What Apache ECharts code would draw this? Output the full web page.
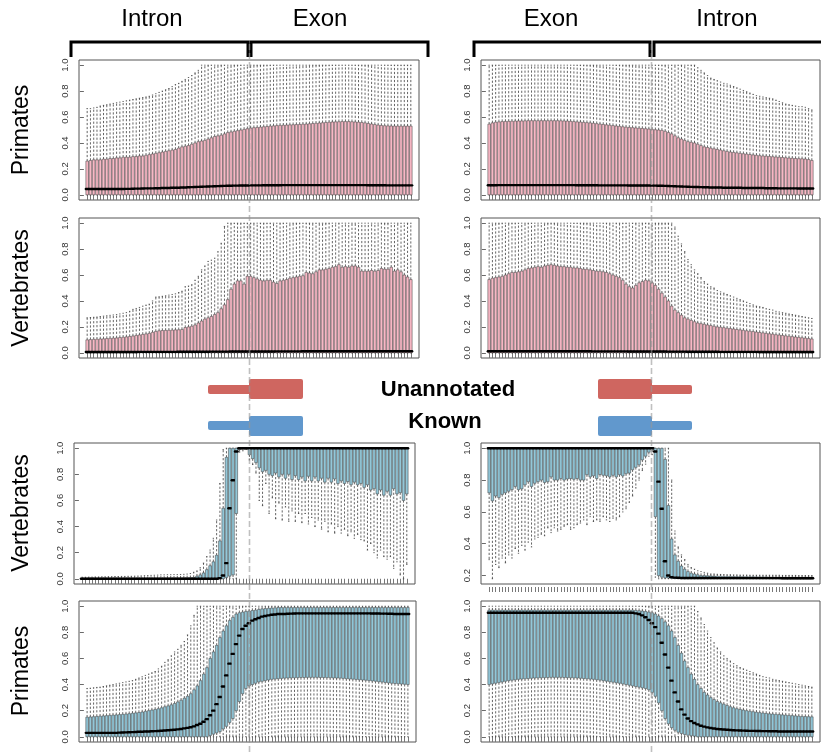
<!DOCTYPE html>
<html>
<head>
<meta charset="utf-8">
<script src="https://cdn.jsdelivr.net/npm/echarts@6/dist/echarts.min.js"></script>
<style>
html,body{margin:0;padding:0;background:#fff;}
#chart{width:821px;height:753px;}
</style>
</head>
<body>
<div id="chart"></div>
<script>
// Five-number summaries (whisker low, Q1, median, Q3, whisker high) for 100 positions per panel.
// Left column: 50 intron positions then 50 exon positions; right column: 50 exon then 50 intron.

// ---- Primates, unannotated, intron -> exon
const a_lo = [
0,0,0,0,0,0,0,0,0,0, 0,0,0,0,0,0,0,0,0,0, 0,0,0,0,0,0,0,0,0,0, 0,0,0,0,0,0,0,0,0,0, 0,0,0,0,0,0,0,0,0,0,
0,0,0,0,0,0,0,0,0,0, 0,0,0,0,0,0,0,0,0,0, 0,0,0,0,0,0,0,0,0,0, 0,0,0,0,0,0,0,0,0,0, 0,0,0,0,0,0,0,0,0,0];
const a_q1 = [
0,0,0,0,0,0,0,0,0,0, 0,0,0,0,0,0,0,0,0,0, 0,0,0,0,0,0,0,0,0,0, 0,0,0,0,0,0,0,0,0,0, 0,0,0,0,0,0,0,0,0,0,
0,0,0,0,0,0,0,0,0,0, 0,0,0,0,0,0,0,0,0,0, 0,0,0,0,0,0,0,0,0,0, 0,0,0,0,0,0,0,0,0,0, 0,0,0,0,0,0,0,0,0,0];
const a_med = [
0.045,0.045,0.045,0.045,0.045,0.045,0.045,0.045,0.045,0.045,
0.045,0.045,0.046,0.046,0.047,0.048,0.048,0.049,0.05,0.05,
0.05,0.051,0.051,0.052,0.052,0.053,0.054,0.055,0.055,0.056,
0.057,0.058,0.059,0.06,0.061,0.062,0.063,0.064,0.065,0.066,
0.067,0.068,0.069,0.07,0.07,0.071,0.071,0.072,0.072,0.072,
0.073,0.073,0.073,0.073,0.074,0.074,0.074,0.074,0.074,0.074,
0.075,0.075,0.075,0.075,0.075,0.075,0.075,0.075,0.075,0.075,
0.075,0.075,0.075,0.075,0.075,0.075,0.075,0.075,0.075,0.075,
0.075,0.075,0.075,0.075,0.075,0.075,0.074,0.074,0.074,0.074,
0.074,0.074,0.073,0.073,0.073,0.073,0.073,0.073,0.073,0.073];
const a_q3 = [
0.26,0.265,0.27,0.27,0.27,0.275,0.275,0.28,0.28,0.285,
0.285,0.29,0.29,0.29,0.295,0.295,0.30,0.30,0.305,0.31,
0.315,0.32,0.325,0.33,0.335,0.34,0.345,0.35,0.36,0.37,
0.375,0.38,0.39,0.40,0.41,0.415,0.42,0.43,0.44,0.45,
0.455,0.46,0.47,0.48,0.485,0.49,0.495,0.50,0.505,0.51,
0.515,0.518,0.52,0.522,0.525,0.527,0.53,0.532,0.534,0.536,
0.537,0.538,0.54,0.541,0.542,0.543,0.545,0.546,0.548,0.55,
0.552,0.554,0.556,0.558,0.56,0.562,0.563,0.564,0.565,0.565,
0.565,0.564,0.562,0.56,0.558,0.555,0.55,0.546,0.542,0.538,
0.535,0.533,0.532,0.531,0.53,0.53,0.53,0.53,0.53,0.53];
const a_hi = [
0.665,0.665,0.67,0.675,0.685,0.69,0.695,0.70,0.705,0.71,
0.715,0.72,0.725,0.73,0.735,0.74,0.745,0.75,0.755,0.76,
0.77,0.78,0.79,0.80,0.81,0.82,0.835,0.85,0.86,0.875,
0.89,0.905,0.92,0.94,0.96,1,1,1,1,1,
1,1,1,1,1,1,1,1,1,1, 1,1,1,1,1,1,1,1,1,1, 1,1,1,1,1,1,1,1,1,1,
1,1,1,1,1,1,1,1,1,1, 1,1,1,1,1,1,1,1,1,1, 1,1,1,1,1,1,1,1,1,1];

// ---- Primates, unannotated, exon -> intron
const b_lo = [
0,0,0,0,0,0,0,0,0,0, 0,0,0,0,0,0,0,0,0,0, 0,0,0,0,0,0,0,0,0,0, 0,0,0,0,0,0,0,0,0,0, 0,0,0,0,0,0,0,0,0,0,
0,0,0,0,0,0,0,0,0,0, 0,0,0,0,0,0,0,0,0,0, 0,0,0,0,0,0,0,0,0,0, 0,0,0,0,0,0,0,0,0,0, 0,0,0,0,0,0,0,0,0,0];
const b_q1 = [
0,0,0,0,0,0,0,0,0,0, 0,0,0,0,0,0,0,0,0,0, 0,0,0,0,0,0,0,0,0,0, 0,0,0,0,0,0,0,0,0,0, 0,0,0,0,0,0,0,0,0,0,
0,0,0,0,0,0,0,0,0,0, 0,0,0,0,0,0,0,0,0,0, 0,0,0,0,0,0,0,0,0,0, 0,0,0,0,0,0,0,0,0,0, 0,0,0,0,0,0,0,0,0,0];
const b_med = [
0.074,0.074,0.074,0.075,0.075,0.075,0.075,0.075,0.075,0.075,
0.075,0.075,0.075,0.075,0.075,0.075,0.075,0.075,0.075,0.075,
0.075,0.075,0.075,0.075,0.075,0.075,0.075,0.074,0.074,0.074,
0.074,0.074,0.074,0.074,0.073,0.073,0.073,0.073,0.073,0.073,
0.073,0.073,0.073,0.072,0.072,0.072,0.072,0.072,0.072,0.072,
0.071,0.071,0.07,0.07,0.069,0.068,0.067,0.066,0.065,0.064,
0.063,0.062,0.061,0.06,0.06,0.059,0.058,0.058,0.057,0.057,
0.056,0.056,0.055,0.055,0.055,0.054,0.054,0.054,0.053,0.053,
0.053,0.052,0.052,0.052,0.052,0.051,0.051,0.051,0.051,0.05,
0.05,0.05,0.05,0.05,0.05,0.049,0.049,0.049,0.049,0.049];
const b_q3 = [
0.545,0.555,0.56,0.563,0.565,0.566,0.567,0.568,0.569,0.57,
0.57,0.571,0.572,0.572,0.572,0.572,0.572,0.572,0.572,0.572,
0.572,0.572,0.571,0.57,0.569,0.567,0.565,0.563,0.561,0.559,
0.557,0.555,0.552,0.549,0.546,0.543,0.54,0.537,0.534,0.531,
0.528,0.525,0.522,0.52,0.518,0.516,0.514,0.512,0.51,0.508,
0.505,0.502,0.50,0.497,0.49,0.48,0.47,0.455,0.44,0.43,
0.42,0.41,0.405,0.40,0.39,0.38,0.37,0.365,0.36,0.355,
0.35,0.345,0.34,0.335,0.33,0.327,0.324,0.32,0.317,0.314,
0.311,0.308,0.305,0.302,0.30,0.298,0.296,0.294,0.292,0.29,
0.288,0.286,0.284,0.282,0.28,0.279,0.278,0.276,0.272,0.265];
const b_hi = [
1,1,1,1,1,1,1,1,1,1, 1,1,1,1,1,1,1,1,1,1, 1,1,1,1,1,1,1,1,1,1, 1,1,1,1,1,1,1,1,1,1,
1,1,1,1,1,1,1,1,1,1, 1,1,1,1,1,1,1,1,1,1, 1,1,1,1,0.98,0.96,0.94,0.92,0.90,0.89,
0.88,0.87,0.86,0.855,0.845,0.835,0.825,0.815,0.805,0.795,
0.785,0.775,0.765,0.76,0.755,0.75,0.745,0.74,0.73,0.72,
0.71,0.70,0.695,0.69,0.685,0.68,0.68,0.675,0.665,0.655];

// ---- Vertebrates, unannotated, intron -> exon
const c_lo = [
0,0,0,0,0,0,0,0,0,0, 0,0,0,0,0,0,0,0,0,0, 0,0,0,0,0,0,0,0,0,0, 0,0,0,0,0,0,0,0,0,0, 0,0,0,0,0,0,0,0,0,0,
0,0,0,0,0,0,0,0,0,0, 0,0,0,0,0,0,0,0,0,0, 0,0,0,0,0,0,0,0,0,0, 0,0,0,0,0,0,0,0,0,0, 0,0,0,0,0,0,0,0,0,0];
const c_q1 = [
0,0,0,0,0,0,0,0,0,0, 0,0,0,0,0,0,0,0,0,0, 0,0,0,0,0,0,0,0,0,0, 0,0,0,0,0,0,0,0,0,0, 0,0,0,0,0,0,0,0,0,0,
0,0,0,0,0,0,0,0,0,0, 0,0,0,0,0,0,0,0,0,0, 0,0,0,0,0,0,0,0,0,0, 0,0,0,0,0,0,0,0,0,0, 0,0,0,0,0,0,0,0,0,0];
const c_med = [
0.006,0.006,0.006,0.006,0.006,0.006,0.006,0.006,0.006,0.006,
0.006,0.006,0.006,0.006,0.006,0.006,0.007,0.007,0.007,0.007,
0.007,0.007,0.007,0.007,0.007,0.007,0.007,0.007,0.008,0.008,
0.008,0.008,0.008,0.008,0.008,0.008,0.008,0.008,0.009,0.009,
0.009,0.009,0.009,0.009,0.01,0.01,0.01,0.01,0.01,0.01,
0.01,0.01,0.01,0.01,0.01,0.01,0.01,0.01,0.011,0.011,
0.011,0.011,0.011,0.011,0.011,0.011,0.012,0.012,0.012,0.012,
0.012,0.012,0.012,0.012,0.012,0.012,0.012,0.012,0.012,0.012,
0.012,0.012,0.012,0.012,0.012,0.012,0.012,0.012,0.012,0.012,
0.012,0.012,0.012,0.012,0.012,0.012,0.012,0.012,0.012,0.012];
const c_q3 = [
0.10,0.102,0.104,0.105,0.107,0.108,0.11,0.112,0.113,0.115,
0.118,0.12,0.123,0.126,0.13,0.134,0.138,0.142,0.146,0.15,
0.158,0.165,0.17,0.172,0.173,0.174,0.175,0.177,0.178,0.18,
0.195,0.20,0.205,0.215,0.23,0.245,0.26,0.27,0.28,0.295,
0.31,0.34,0.37,0.41,0.49,0.53,0.555,0.555,0.53,0.59,
0.59,0.58,0.57,0.56,0.555,0.56,0.56,0.545,0.535,0.555,
0.56,0.565,0.575,0.58,0.585,0.59,0.595,0.62,0.615,0.61,
0.625,0.64,0.64,0.645,0.65,0.66,0.665,0.68,0.66,0.665,
0.66,0.67,0.67,0.66,0.63,0.63,0.63,0.635,0.63,0.635,
0.65,0.645,0.645,0.66,0.63,0.64,0.625,0.60,0.585,0.565];
const c_hi = [
0.27,0.272,0.274,0.276,0.28,0.283,0.286,0.289,0.292,0.295,
0.30,0.305,0.31,0.32,0.335,0.342,0.35,0.36,0.368,0.375,
0.40,0.43,0.432,0.436,0.44,0.445,0.45,0.455,0.465,0.475,
0.51,0.515,0.525,0.56,0.59,0.64,0.67,0.705,0.715,0.73,
0.78,0.845,0.975,1,1,1,1,1,1,1,
1,1,1,1,1,1,1,1,1,1, 1,1,1,1,1,1,1,1,1,1, 1,1,1,1,1,1,1,1,1,1,
1,1,1,1,1,1,1,1,1,1, 1,1,1,1,1,1,1,1,1,1];

// ---- Vertebrates, unannotated, exon -> intron
const d_lo = [
0,0,0,0,0,0,0,0,0,0, 0,0,0,0,0,0,0,0,0,0, 0,0,0,0,0,0,0,0,0,0, 0,0,0,0,0,0,0,0,0,0, 0,0,0,0,0,0,0,0,0,0,
0,0,0,0,0,0,0,0,0,0, 0,0,0,0,0,0,0,0,0,0, 0,0,0,0,0,0,0,0,0,0, 0,0,0,0,0,0,0,0,0,0, 0,0,0,0,0,0,0,0,0,0];
const d_q1 = [
0,0,0,0,0,0,0,0,0,0, 0,0,0,0,0,0,0,0,0,0, 0,0,0,0,0,0,0,0,0,0, 0,0,0,0,0,0,0,0,0,0, 0,0,0,0,0,0,0,0,0,0,
0,0,0,0,0,0,0,0,0,0, 0,0,0,0,0,0,0,0,0,0, 0,0,0,0,0,0,0,0,0,0, 0,0,0,0,0,0,0,0,0,0, 0,0,0,0,0,0,0,0,0,0];
const d_med = [
0.012,0.012,0.012,0.012,0.012,0.012,0.012,0.012,0.012,0.012,
0.012,0.012,0.012,0.012,0.012,0.012,0.012,0.012,0.012,0.012,
0.012,0.012,0.012,0.012,0.012,0.012,0.012,0.012,0.012,0.012,
0.012,0.012,0.011,0.011,0.011,0.011,0.011,0.011,0.011,0.011,
0.011,0.011,0.011,0.01,0.01,0.01,0.01,0.01,0.01,0.01,
0.01,0.01,0.01,0.01,0.01,0.009,0.009,0.009,0.009,0.009,
0.009,0.008,0.008,0.008,0.008,0.008,0.008,0.008,0.008,0.008,
0.008,0.007,0.007,0.007,0.007,0.007,0.007,0.007,0.007,0.007,
0.007,0.007,0.007,0.006,0.006,0.006,0.006,0.006,0.006,0.006,
0.006,0.006,0.006,0.006,0.006,0.006,0.006,0.006,0.006,0.006];
const d_q3 = [
0.565,0.575,0.58,0.585,0.59,0.60,0.61,0.62,0.62,0.625,
0.63,0.64,0.65,0.655,0.66,0.665,0.66,0.67,0.675,0.68,
0.675,0.67,0.665,0.665,0.66,0.66,0.655,0.655,0.65,0.645,
0.645,0.64,0.635,0.63,0.63,0.625,0.62,0.61,0.60,0.59,
0.58,0.56,0.53,0.51,0.50,0.52,0.54,0.55,0.56,0.555,
0.54,0.52,0.49,0.46,0.43,0.40,0.36,0.33,0.31,0.29,
0.27,0.26,0.25,0.24,0.23,0.225,0.22,0.215,0.21,0.205,
0.20,0.197,0.194,0.19,0.187,0.184,0.18,0.177,0.174,0.17,
0.167,0.164,0.16,0.157,0.154,0.15,0.147,0.144,0.14,0.137,
0.134,0.131,0.128,0.125,0.122,0.119,0.116,0.113,0.11,0.107];
const d_hi = [
1,1,1,1,1,1,1,1,1,1, 1,1,1,1,1,1,1,1,1,1, 1,1,1,1,1,1,1,1,1,1, 1,1,1,1,1,1,1,1,1,1,
1,1,1,1,1,1,1,1,1,1, 1,1,1,1,1,1,1,0.97,0.90,0.84,
0.78,0.72,0.68,0.64,0.61,0.58,0.55,0.53,0.51,0.50,
0.48,0.47,0.46,0.45,0.44,0.43,0.42,0.41,0.40,0.39,
0.38,0.37,0.36,0.355,0.35,0.34,0.335,0.33,0.32,0.315,
0.31,0.305,0.30,0.295,0.29,0.285,0.28,0.275,0.27,0.265];

// ---- Vertebrates, known, intron -> exon
const e_lo = [
0,0,0,0,0,0,0,0,0,0, 0,0,0,0,0,0,0,0,0,0, 0,0,0,0,0,0,0,0,0,0, 0,0,0,0,0,0,0,0,0,0,
0,0,0,0,0,0,0,0,0.97,0.98,
0.99,0.91,0.875,0.81,0.60,0.56,0.73,0.50,0.62,0.46,
0.58,0.45,0.55,0.44,0.52,0.44,0.50,0.43,0.50,0.42,
0.47,0.40,0.45,0.38,0.44,0.36,0.42,0.35,0.40,0.35,
0.38,0.33,0.36,0.31,0.34,0.30,0.29,0.22,0.27,0.20,
0.16,0.22,0.17,0.15,0.17,0.08,0.13,0.03,0.0,0.11];
const e_q1 = [
0,0,0,0,0,0,0,0,0,0, 0,0,0,0,0,0,0,0,0,0, 0,0,0,0,0,0,0,0,0,0, 0,0,0,0,0,0,0,0,0,0,
0,0,0,0,0.01,0.02,0.03,0.5,0.99,1,
1,0.95,0.92,0.89,0.85,0.82,0.83,0.80,0.79,0.81,
0.78,0.80,0.77,0.80,0.76,0.79,0.76,0.78,0.75,0.785,
0.75,0.78,0.75,0.77,0.74,0.77,0.74,0.765,0.73,0.75,
0.73,0.745,0.72,0.74,0.72,0.73,0.70,0.72,0.68,0.69,
0.65,0.68,0.64,0.67,0.64,0.69,0.65,0.66,0.60,0.65];
const e_med = [
0,0,0,0,0,0,0,0,0,0, 0,0,0,0,0,0,0,0,0,0, 0,0,0,0,0,0,0,0,0,0, 0,0,0,0,0,0,0,0,0,0,
0,0,0.005,0.025,0.12,0.54,0.755,0.975,1,1,
1,1,1,1,1,1,1,1,1,1, 1,1,1,1,1,1,1,1,1,1, 1,1,1,1,1,1,1,1,1,1,
1,1,1,1,1,1,1,1,1,1, 1,1,1,1,1,1,1,1,1,1];
const e_q3 = [
0,0,0,0,0,0,0,0,0,0,
0,0,0,0,0,0.001,0.001,0.001,0.002,0.002,
0.002,0.002,0.003,0.003,0.003,0.003,0.004,0.004,0.004,0.005,
0.005,0.006,0.007,0.008,0.01,0.02,0.03,0.045,0.07,0.10,
0.13,0.18,0.29,0.54,0.93,1,1,1,1,1,
1,1,1,1,1,1,1,1,1,1, 1,1,1,1,1,1,1,1,1,1, 1,1,1,1,1,1,1,1,1,1,
1,1,1,1,1,1,1,1,1,1, 1,1,1,1,1,1,1,1,1,1];
const e_hi = [
0.012,0.012,0.013,0.013,0.014,0.014,0.015,0.015,0.016,0.016,
0.017,0.017,0.018,0.018,0.019,0.019,0.02,0.021,0.022,0.024,
0.025,0.026,0.027,0.028,0.03,0.03,0.031,0.031,0.032,0.032,
0.033,0.034,0.036,0.04,0.05,0.06,0.085,0.12,0.17,0.22,
0.31,0.45,0.73,0.99,1,1,1,1,1,1,
1,1,1,1,1,1,1,1,1,1, 1,1,1,1,1,1,1,1,1,1, 1,1,1,1,1,1,1,1,1,1,
1,1,1,1,1,1,1,1,1,1, 1,1,1,1,1,1,1,1,1,1];

// ---- Vertebrates, known, exon -> intron
const f_lo = [
0.30,0.18,0.27,0.25,0.31,0.28,0.33,0.31,0.37,0.34,
0.39,0.36,0.41,0.38,0.43,0.44,0.46,0.45,0.50,0.47,
0.50,0.48,0.49,0.51,0.52,0.49,0.50,0.52,0.53,0.55,
0.52,0.57,0.54,0.55,0.54,0.57,0.55,0.54,0.56,0.55,
0.57,0.60,0.62,0.66,0.70,0.75,0.80,0.86,0.90,0.95,
0.96,0.19,0.18,0.18,0.18,0.18,0.18,0.18,0.18,0.18,
0.18,0.18,0.18,0.18,0.18,0.18,0.18,0.18,0.18,0.18,
0.18,0.18,0.18,0.18,0.18,0.18,0.18,0.18,0.18,0.18,
0.18,0.18,0.18,0.18,0.18,0.18,0.18,0.18,0.18,0.18,
0.18,0.18,0.18,0.18,0.18,0.18,0.18,0.18,0.18,0.18];
const f_q1 = [
0.72,0.67,0.70,0.69,0.71,0.72,0.73,0.74,0.76,0.74,
0.745,0.77,0.79,0.76,0.78,0.79,0.80,0.785,0.79,0.82,
0.80,0.80,0.81,0.80,0.807,0.81,0.805,0.81,0.80,0.80,
0.834,0.82,0.827,0.81,0.835,0.83,0.827,0.82,0.83,0.82,
0.834,0.826,0.84,0.844,0.865,0.88,0.896,0.927,0.95,0.975,
0.99,0.57,0.20,0.19,0.185,0.185,0.182,0.182,0.181,0.181,
0.18,0.18,0.18,0.18,0.18,0.18,0.18,0.18,0.18,0.18,
0.18,0.18,0.18,0.18,0.18,0.18,0.18,0.18,0.18,0.18,
0.18,0.18,0.18,0.18,0.18,0.18,0.18,0.18,0.18,0.18,
0.18,0.18,0.18,0.18,0.18,0.18,0.18,0.18,0.18,0.18];
const f_med = [
1,1,1,1,1,1,1,1,1,1, 1,1,1,1,1,1,1,1,1,1, 1,1,1,1,1,1,1,1,1,1, 1,1,1,1,1,1,1,1,1,1,
1,1,1,1,1,1,1,1,1,1,
1,0.98,0.79,0.62,0.29,0.20,0.19,0.187,0.186,0.185,
0.185,0.185,0.185,0.185,0.185,0.185,0.185,0.185,0.185,0.185,
0.184,0.184,0.184,0.184,0.184,0.184,0.184,0.184,0.184,0.184,
0.184,0.184,0.184,0.184,0.184,0.184,0.184,0.184,0.184,0.184,
0.183,0.183,0.183,0.183,0.183,0.183,0.183,0.183,0.183,0.183];
const f_q3 = [
1,1,1,1,1,1,1,1,1,1, 1,1,1,1,1,1,1,1,1,1, 1,1,1,1,1,1,1,1,1,1, 1,1,1,1,1,1,1,1,1,1,
1,1,1,1,1,1,1,1,1,1,
1,1,1,1,0.93,0.64,0.43,0.33,0.29,0.26,
0.24,0.225,0.215,0.21,0.205,0.20,0.20,0.199,0.198,0.197,
0.196,0.196,0.195,0.195,0.195,0.194,0.194,0.194,0.193,0.193,
0.193,0.193,0.192,0.192,0.192,0.192,0.191,0.191,0.191,0.191,
0.19,0.19,0.19,0.19,0.19,0.19,0.19,0.19,0.19,0.19];
const f_hi = [
1,1,1,1,1,1,1,1,1,1, 1,1,1,1,1,1,1,1,1,1, 1,1,1,1,1,1,1,1,1,1, 1,1,1,1,1,1,1,1,1,1,
1,1,1,1,1,1,1,1,1,1,
1,1,1,1,1,1,0.80,0.48,0.38,0.33,
0.30,0.27,0.25,0.24,0.23,0.225,0.22,0.215,0.21,0.21,
0.208,0.207,0.206,0.205,0.205,0.204,0.204,0.203,0.203,0.203,
0.202,0.202,0.202,0.202,0.202,0.202,0.202,0.202,0.202,0.202,
0.201,0.201,0.201,0.201,0.201,0.2,0.2,0.2,0.2,0.2];

// ---- Primates, known, intron -> exon
const g_lo = [
0,0,0,0,0,0,0,0,0,0, 0,0,0,0,0,0,0,0,0,0, 0,0,0,0,0,0,0,0,0,0, 0,0,0,0,0,0,0,0,0,0, 0,0,0,0,0,0,0,0,0,0,
0,0,0,0,0,0,0,0,0,0, 0,0,0,0,0,0,0,0,0,0, 0,0,0,0,0,0,0,0,0,0, 0,0,0,0,0,0,0,0,0,0, 0,0,0,0,0,0,0,0,0,0];
const g_q1 = [
0,0,0,0,0,0,0,0,0,0, 0,0,0,0,0,0,0,0,0,0, 0,0,0,0,0,0,0,0,0,0,
0,0,0,0,0,0,0,0,0.01,0.02,
0.03,0.04,0.06,0.08,0.11,0.14,0.20,0.27,0.33,0.37,
0.39,0.40,0.41,0.42,0.425,0.43,0.435,0.44,0.442,0.445,
0.447,0.449,0.45,0.451,0.452,0.453,0.454,0.454,0.455,0.455,
0.455,0.455,0.454,0.454,0.453,0.452,0.451,0.45,0.449,0.447,
0.445,0.443,0.441,0.439,0.437,0.435,0.433,0.43,0.428,0.425,
0.422,0.419,0.416,0.413,0.41,0.408,0.406,0.404,0.402,0.40];
const g_med = [
0.03,0.03,0.03,0.03,0.03,0.03,0.03,0.03,0.03,0.03,
0.032,0.033,0.034,0.035,0.036,0.037,0.038,0.039,0.04,0.041,
0.042,0.043,0.044,0.046,0.048,0.05,0.052,0.054,0.057,0.06,
0.064,0.068,0.073,0.08,0.09,0.10,0.115,0.135,0.165,0.20,
0.25,0.305,0.385,0.47,0.56,0.635,0.71,0.775,0.825,0.85,
0.87,0.89,0.90,0.91,0.92,0.925,0.93,0.935,0.937,0.94,
0.94,0.941,0.942,0.943,0.944,0.945,0.945,0.945,0.945,0.945,
0.945,0.945,0.945,0.945,0.945,0.945,0.945,0.945,0.945,0.945,
0.945,0.945,0.945,0.945,0.945,0.945,0.945,0.945,0.944,0.944,
0.944,0.943,0.943,0.942,0.942,0.941,0.941,0.94,0.94,0.94];
const g_q3 = [
0.15,0.152,0.154,0.156,0.158,0.16,0.162,0.164,0.166,0.168,
0.17,0.172,0.174,0.177,0.18,0.183,0.186,0.19,0.195,0.20,
0.205,0.21,0.215,0.222,0.23,0.237,0.245,0.255,0.267,0.28,
0.295,0.31,0.33,0.36,0.39,0.43,0.48,0.53,0.60,0.65,
0.70,0.76,0.81,0.85,0.89,0.915,0.94,0.95,0.955,0.96,
0.963,0.967,0.97,0.975,0.98,0.982,0.984,0.986,0.988,0.99,
0.99,0.99,0.99,0.99,0.99,0.99,0.99,0.99,0.99,0.99,
0.99,0.99,0.99,0.99,0.99,0.99,0.99,0.99,0.99,0.99,
0.99,0.99,0.99,0.99,0.99,0.99,0.99,0.99,0.99,0.99,
0.99,0.99,0.99,0.99,0.99,0.99,0.99,0.99,0.99,0.99];
const g_hi = [
0.37,0.372,0.375,0.378,0.38,0.385,0.39,0.395,0.40,0.405,
0.41,0.415,0.42,0.425,0.43,0.44,0.45,0.46,0.47,0.48,
0.49,0.50,0.52,0.54,0.57,0.59,0.62,0.65,0.67,0.70,
0.73,0.78,0.85,0.93,1,1,1,1,1,1,
1,1,1,1,1,1,1,1,1,1, 1,1,1,1,1,1,1,1,1,1, 1,1,1,1,1,1,1,1,1,1,
1,1,1,1,1,1,1,1,1,1, 1,1,1,1,1,1,1,1,1,1, 1,1,1,1,1,1,1,1,1,1];

// ---- Primates, known, exon -> intron
const h_lo = [
0,0,0,0,0,0,0,0,0,0, 0,0,0,0,0,0,0,0,0,0, 0,0,0,0,0,0,0,0,0,0, 0,0,0,0,0,0,0,0,0,0, 0,0,0,0,0,0,0,0,0,0,
0,0,0,0,0,0,0,0,0,0, 0,0,0,0,0,0,0,0,0,0, 0,0,0,0,0,0,0,0,0,0, 0,0,0,0,0,0,0,0,0,0, 0,0,0,0,0,0,0,0,0,0];
const h_q1 = [
0.40,0.405,0.41,0.415,0.42,0.425,0.43,0.433,0.436,0.44,
0.442,0.444,0.446,0.448,0.45,0.451,0.452,0.453,0.454,0.455,
0.455,0.455,0.455,0.454,0.453,0.452,0.451,0.45,0.448,0.446,
0.444,0.442,0.44,0.437,0.434,0.43,0.426,0.422,0.418,0.414,
0.41,0.405,0.40,0.395,0.39,0.385,0.38,0.375,0.37,0.36,
0.34,0.31,0.26,0.20,0.14,0.10,0.07,0.05,0.035,0.025,
0.018,0.012,0.008,0.005,0,0,0,0,0,0,
0,0,0,0,0,0,0,0,0,0, 0,0,0,0,0,0,0,0,0,0, 0,0,0,0,0,0,0,0,0,0];
const h_med = [
0.95,0.95,0.95,0.95,0.95,0.95,0.95,0.95,0.95,0.95,
0.95,0.95,0.95,0.95,0.95,0.95,0.95,0.95,0.95,0.95,
0.95,0.95,0.95,0.95,0.95,0.95,0.95,0.95,0.95,0.95,
0.95,0.95,0.95,0.95,0.95,0.95,0.95,0.95,0.95,0.95,
0.95,0.95,0.95,0.95,0.95,0.945,0.94,0.93,0.915,0.895,
0.87,0.84,0.79,0.72,0.63,0.53,0.43,0.34,0.27,0.21,
0.17,0.14,0.12,0.105,0.095,0.085,0.078,0.072,0.067,0.063,
0.06,0.058,0.056,0.054,0.052,0.05,0.049,0.048,0.047,0.046,
0.045,0.045,0.044,0.044,0.043,0.043,0.042,0.042,0.042,0.041,
0.041,0.041,0.041,0.04,0.04,0.04,0.04,0.04,0.04,0.04];
const h_q3 = [
0.97,0.97,0.97,0.97,0.97,0.97,0.97,0.97,0.97,0.97,
0.97,0.97,0.97,0.97,0.97,0.97,0.97,0.97,0.97,0.97,
0.97,0.97,0.97,0.97,0.97,0.97,0.97,0.97,0.97,0.97,
0.97,0.97,0.97,0.97,0.97,0.97,0.97,0.97,0.97,0.97,
0.97,0.97,0.97,0.97,0.97,0.968,0.966,0.963,0.96,0.955,
0.95,0.94,0.925,0.905,0.88,0.85,0.81,0.76,0.70,0.64,
0.58,0.53,0.48,0.44,0.40,0.37,0.34,0.32,0.30,0.285,
0.27,0.26,0.25,0.24,0.23,0.222,0.215,0.21,0.205,0.20,
0.196,0.192,0.188,0.185,0.182,0.179,0.176,0.174,0.172,0.17,
0.168,0.166,0.164,0.162,0.16,0.158,0.156,0.155,0.154,0.153];
const h_hi = [
1,1,1,1,1,1,1,1,1,1, 1,1,1,1,1,1,1,1,1,1, 1,1,1,1,1,1,1,1,1,1, 1,1,1,1,1,1,1,1,1,1,
1,1,1,1,1,1,1,1,1,1, 1,1,1,1,1,1,1,1,1,1, 1,1,1,1,0.96,0.91,0.86,0.81,0.76,0.72,
0.68,0.65,0.62,0.60,0.58,0.56,0.545,0.53,0.52,0.51,
0.50,0.49,0.48,0.47,0.46,0.455,0.45,0.44,0.435,0.43,
0.425,0.42,0.415,0.41,0.405,0.40,0.395,0.39,0.385,0.38];

// Tick labels
const yTicksFull = [0, 0.2, 0.4, 0.6, 0.8, 1.0];
const yTicksHigh = [0.2, 0.4, 0.6, 0.8, 1.0];
const headerLeft = ['Intron', 'Exon'];
const headerRight = ['Exon', 'Intron'];
const rowNames = ['Primates', 'Vertebrates', 'Vertebrates', 'Primates'];
const legendNames = ['Unannotated', 'Known'];

// ---------------------------------------------------------------
const FONT = '"Liberation Sans", Arial, Helvetica, sans-serif';
const PINK = '#F7B8C5';
const BLUE = '#93C7D8';
const positions = a_q3.map((_, i) => i + 1);

// panel layout: frame [x0, y0, x1, y1] in px, y range, fill, stats
const panels = [
  { frame: [79, 60, 419, 200],  y: [-0.04, 1.04], ticks: yTicksFull, fill: PINK, s: [a_lo, a_q1, a_med, a_q3, a_hi] },
  { frame: [481, 60, 820, 200], y: [-0.04, 1.04], ticks: yTicksFull, fill: PINK, s: [b_lo, b_q1, b_med, b_q3, b_hi] },
  { frame: [79, 218, 419, 358], y: [-0.04, 1.04], ticks: yTicksFull, fill: PINK, s: [c_lo, c_q1, c_med, c_q3, c_hi] },
  { frame: [481, 218, 820, 358],y: [-0.04, 1.04], ticks: yTicksFull, fill: PINK, s: [d_lo, d_q1, d_med, d_q3, d_hi] },
  { frame: [74, 443, 415, 584], y: [-0.04, 1.04], ticks: yTicksFull, fill: BLUE, s: [e_lo, e_q1, e_med, e_q3, e_hi] },
  { frame: [481, 443, 820, 584],y: [0.147, 1.033], ticks: yTicksHigh, fill: BLUE, s: [f_lo, f_q1, f_med, f_q3, f_hi] },
  { frame: [79, 601, 416, 742], y: [-0.04, 1.04], ticks: yTicksFull, fill: BLUE, s: [g_lo, g_q1, g_med, g_q3, g_hi] },
  { frame: [481, 601, 820, 742],y: [-0.04, 1.04], ticks: yTicksFull, fill: BLUE, s: [h_lo, h_q1, h_med, h_q3, h_hi] }
];

function boxRenderer(fill) {
  return function (params, api) {
    const x = api.value(0);
    const pLo = api.coord([x, api.value(1)]);
    const pQ1 = api.coord([x, api.value(2)]);
    const pMed = api.coord([x, api.value(3)]);
    const pQ3 = api.coord([x, api.value(4)]);
    const pHi = api.coord([x, api.value(5)]);
    const bw = api.size([0.8, 0])[0];
    const sw = bw * 0.5;
    const cx = pQ1[0];
    const dash = { stroke: '#222', lineWidth: 0.7, lineDash: [2.2, 1.8], fill: null };
    const solid = { stroke: '#222', lineWidth: 0.7, fill: null };
    const kids = [];
    if (pHi[1] < pQ3[1] - 0.3) kids.push({ type: 'line', shape: { x1: cx, y1: pQ3[1], x2: cx, y2: pHi[1] }, style: dash });
    if (pLo[1] > pQ1[1] + 0.3) kids.push({ type: 'line', shape: { x1: cx, y1: pQ1[1], x2: cx, y2: pLo[1] }, style: dash });
    kids.push({ type: 'line', shape: { x1: cx - sw / 2, y1: pHi[1], x2: cx + sw / 2, y2: pHi[1] }, style: solid });
    kids.push({ type: 'line', shape: { x1: cx - sw / 2, y1: pLo[1], x2: cx + sw / 2, y2: pLo[1] }, style: solid });
    kids.push({ type: 'rect', shape: { x: cx - bw / 2, y: pQ3[1], width: bw, height: Math.max(pQ1[1] - pQ3[1], 0) },
                style: { fill: fill, stroke: '#262626', lineWidth: 0.45 } });
    kids.push({ type: 'line', shape: { x1: cx - bw / 2, y1: pMed[1], x2: cx + bw / 2, y2: pMed[1] },
                style: { stroke: '#000', lineWidth: 2.4, lineCap: 'round', fill: null } });
    return { type: 'group', children: kids };
  };
}

const grid = [], xAxis = [], yAxis = [], series = [];
panels.forEach((p, k) => {
  const [x0, y0, x1, y1] = p.frame;
  grid.push({ left: x0, top: y0, width: x1 - x0, height: y1 - y0, show: true,
              borderColor: '#555', borderWidth: 1, backgroundColor: 'transparent',
              containLabel: false, outerBoundsMode: 'none' });
  xAxis.push({ gridIndex: k, type: 'value', min: -1.5, max: 102.5, offset: 3,
               axisLine: { show: false }, splitLine: { show: false }, axisLabel: { show: false },
               axisTick: { show: true, length: 5, customValues: positions, lineStyle: { color: '#555', width: 0.8 } } });
  yAxis.push({ gridIndex: k, type: 'value', min: p.y[0], max: p.y[1],
               axisLine: { show: false }, splitLine: { show: false },
               axisTick: { show: true, length: 4, customValues: p.ticks, lineStyle: { color: '#444', width: 0.8 } },
               axisLabel: { customValues: p.ticks, rotate: 90, margin: 9, fontSize: 9.5, color: '#333',
                            fontFamily: FONT, formatter: v => v.toFixed(1) } });
  const rows = positions.map((pos, i) => [pos, p.s[0][i], p.s[1][i], p.s[2][i], p.s[3][i], p.s[4][i]]);
  series.push({ type: 'custom', xAxisIndex: k, yAxisIndex: k, data: rows, clip: false,
                renderItem: boxRenderer(p.fill), silent: true });
});

// annotation layer: brackets, headings, row names, junction guides, gene glyphs
const g = [];
const bracket = (pts) => g.push({ type: 'polyline', shape: { points: pts }, style: { stroke: '#000', lineWidth: 3, fill: null }, z: 50 });
bracket([[71, 57], [71, 42], [248, 42], [248, 57]]);
bracket([[251, 57], [251, 42], [428, 42], [428, 57]]);
bracket([[474, 57], [474, 42], [650, 42], [650, 57]]);
bracket([[654, 57], [654, 42], [830, 42]]);

const txt = (s, x, y, size, opts) => g.push(Object.assign({ type: 'text', x: x, y: y, z: 50,
  style: { text: s, fontSize: size, fontFamily: FONT, fill: '#000', align: 'center', verticalAlign: 'middle',
           fontWeight: (opts && opts.bold) ? 'bold' : 'normal' } }, (opts && opts.rot) ? { rotation: Math.PI / 2 } : {}));
txt(headerLeft[0], 152, 19, 24);
txt(headerLeft[1], 320, 19, 24);
txt(headerRight[0], 551, 19, 24);
txt(headerRight[1], 727, 19, 24);
txt(rowNames[0], 22, 130, 23, { rot: true });
txt(rowNames[1], 22, 288, 23, { rot: true });
txt(rowNames[2], 22, 513, 23, { rot: true });
txt(rowNames[3], 22, 671, 23, { rot: true });
txt(legendNames[0], 448, 390, 22, { bold: true });
txt(legendNames[1], 445, 422, 22, { bold: true });

// gene-structure glyphs
const RED = '#CF6660', LBLUE = '#6198CD';
const glyph = (x, y, w, h, c) => g.push({ type: 'rect', shape: { x: x, y: y, width: w, height: h, r: 2 }, style: { fill: c }, z: 40 });
glyph(208, 385, 44, 9, RED);   glyph(249, 379, 54, 20, RED);
glyph(598, 379, 54, 20, RED);  glyph(650, 385, 42, 9, RED);
glyph(208, 421, 44, 9, LBLUE); glyph(249, 416, 54, 20, LBLUE);
glyph(598, 416, 54, 20, LBLUE);glyph(650, 421, 42, 9, LBLUE);

// junction guides
[249.5, 651.5].forEach(x => g.push({ type: 'line', shape: { x1: x, y1: 44, x2: x, y2: 753 }, z: 60,
  style: { stroke: 'rgba(150,150,150,0.6)', lineWidth: 1.6, lineDash: [6, 3] } }));

const chart = echarts.init(document.getElementById('chart'), null, { renderer: 'canvas' });
chart.setOption({
  animation: false,
  backgroundColor: '#fff',
  grid: grid, xAxis: xAxis, yAxis: yAxis, series: series,
  graphic: { elements: g }
});
</script>
</body>
</html>
